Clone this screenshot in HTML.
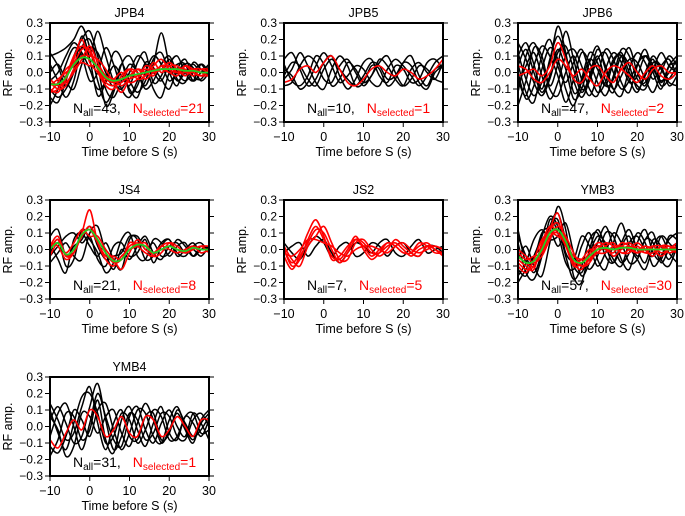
<!DOCTYPE html>
<html><head><meta charset="utf-8"><style>
body{margin:0;background:#fff}
svg{display:block;font-family:"Liberation Sans",sans-serif}
</style></head><body>
<svg id="c" width="685" height="516" viewBox="0 0 685 516"></svg>
<script>
// values in hundredths of RF amplitude, sampled at times -10,-8,...,30 s
const times=[-10,-8,-6,-4,-2,0,2,4,6,8,10,12,14,16,18,20,22,24,26,28,30];
const yTicks=[0.3,0.2,0.1,0.0,-0.1,-0.2,-0.3];
const xTicks=[-10,0,10,20,30];
const stations=["JPB4","JPB5","JPB6","JS4","JS2","YMB3","YMB4"];
const nAll=[43,10,47,21,7,57,31];
const nSel=[21,1,2,8,5,30,1];
const jpb4Black=[
[-15,-18,-5,10,20,25,10,-10,-15,-5,5,0,-8,5,24,5,-5,0,5,0,3],
[10,12,15,20,28,15,-5,-18,-10,0,-10,-15,0,10,5,-5,0,5,-5,0,5],
[-20,-10,5,15,10,-5,0,15,5,-10,-15,-5,5,0,-5,5,10,0,-5,5,0],
[5,-5,-15,-5,15,20,5,-20,-12,5,10,0,-10,-5,5,10,0,-5,0,5,-3],
[-10,-15,-10,0,15,10,25,10,-5,-10,0,10,5,-10,-15,0,5,5,-5,0,2],
[0,5,-5,-10,5,15,12,0,-8,5,-5,-12,-5,8,12,0,-8,5,3,-5,0],
[-5,0,10,18,12,2,-10,-5,12,8,-12,-8,6,3,-4,-10,2,8,-2,-4,4],
[12,4,-8,2,22,8,-14,-6,4,-2,-8,6,12,-6,-2,8,-4,-6,6,2,-2]];
const jpb4Red=[
[-12,-10,-2,10,16,12,2,-6,-8,-6,-2,2,-2,4,8,2,0,4,0,-2,2],
[-4,-8,-6,0,8,16,6,-2,-4,-8,-4,-2,2,0,2,6,2,-2,2,2,0],
[-10,-12,-4,8,20,6,0,-8,-10,-2,2,-4,-2,6,0,4,4,0,0,-2,-2],
[-8,-4,0,4,10,10,8,2,-6,-12,-4,2,0,-2,4,0,2,2,-2,2,2],
[-6,-10,-8,2,6,4,4,-4,-4,0,-6,-4,4,2,2,0,-2,4,2,0,0],
[-12,-6,2,6,14,14,2,-4,-6,-4,2,0,-4,0,4,4,0,0,2,0,-2]];
const jpb4Mean=[-7,-7,-3,5,9,8,3,-3,-5,-4,-2,-1,0,1,2,2,2,1,1,0,0];
const jpb5Black=[
[5,-5,-8,-2,10,5,-8,-4,6,2,-6,-2,8,4,-4,-8,2,6,0,-4,6],
[-4,2,12,4,-6,-10,2,10,4,-8,-6,4,2,-8,-4,6,10,-2,-8,2,4],
[8,12,2,-8,-4,6,10,-2,-10,-4,6,8,-2,-6,4,2,-6,-4,6,8,2],
[-8,-6,4,10,6,-4,-6,4,8,0,-8,-2,6,10,0,-8,-4,4,2,-4,-6],
[2,-2,-10,-6,4,12,4,-6,-2,4,2,-6,-8,2,8,4,-2,-8,-2,6,10],
[-2,6,4,-4,-8,2,8,2,-4,-8,-2,6,4,-4,-2,6,4,-6,-10,0,4]];
const jpb5Red=[[-6,-4,2,4,0,6,10,2,-6,-8,-4,2,4,0,-2,2,0,-4,-2,2,8]];
const jpb6Black=[
[10,18,5,-10,8,22,10,-5,-15,-5,8,12,0,-10,-5,5,10,2,-5,0,8],
[-20,-5,15,10,-8,5,25,8,-10,-4,10,-5,-12,5,15,0,-8,6,2,-4,0],
[5,-12,-18,2,15,8,-10,-20,-4,12,6,-8,-4,10,4,-10,-2,8,-6,4,6],
[18,8,-6,-14,-4,12,16,2,-12,-2,14,4,-10,-14,2,12,6,-4,4,8,-2],
[-8,4,12,-2,-16,-6,10,14,4,-10,-14,2,12,6,-6,-2,10,4,-8,-4,4],
[0,-16,-8,10,20,4,-6,6,14,0,-12,-6,8,10,-4,-12,0,10,2,-6,-8],
[12,-4,-14,-6,6,28,12,-12,-6,8,2,-8,6,12,0,-8,-10,2,12,4,0],
[-12,10,18,6,-10,-14,0,10,-4,-14,-2,14,8,-6,-12,4,14,0,-10,4,10],
[4,14,0,-12,-2,14,2,-16,-10,6,16,2,-10,-2,8,6,-4,-12,0,10,4],
[-4,-14,4,16,10,-2,-18,-4,12,6,-6,-14,-2,14,10,-4,-6,6,4,-8,-2]];
const jpb6Red=[
[-2,0,2,-2,4,18,8,-4,-6,2,4,-2,-6,2,6,0,-4,2,4,0,0],
[4,2,-4,-6,0,8,4,-2,2,-4,-8,0,4,2,-2,-6,0,4,-2,-4,0]];
const js4Black=[
[-2,6,-10,-6,12,6,-2,-14,-8,6,10,-4,-6,6,4,-4,2,4,-4,0,2],
[8,12,-4,2,6,14,2,-6,-4,-2,8,6,-6,-4,4,6,-2,-4,2,4,-2],
[-8,-2,4,-4,-6,10,14,-2,-12,0,-6,2,8,-2,-6,2,4,-2,0,-4,2],
[4,-6,-14,6,10,2,-4,4,-6,-12,6,8,0,4,-4,-2,6,2,-4,2,0],
[-4,2,8,10,4,8,-6,-10,2,4,-4,-2,6,-8,2,6,-4,0,4,-2,0]];
const js4Red=[
[0,6,-4,0,8,14,6,-2,-8,-6,2,4,2,-2,0,2,0,-2,2,0,0],
[4,2,-6,-2,10,24,4,-6,-10,-4,0,2,4,-4,-2,4,2,-2,0,2,-2],
[-4,4,-2,4,12,8,8,0,-6,-12,-2,6,0,-2,2,0,-2,0,2,-2,0],
[2,8,-4,-2,8,12,4,-4,-4,-6,4,2,-2,-4,2,4,0,-2,0,2,2]];
const js4Mean=[0,4,-3,0,9,12,6,-2,-7,-6,0,3,2,-2,0,2,0,-1,1,0,0];
const js2Black=[
[-2,2,4,-4,2,6,-2,-8,-2,4,2,-2,4,6,-2,-4,2,6,-2,0,2],
[4,-2,-6,2,8,4,-4,2,4,-4,-2,4,2,-4,2,4,-2,-4,2,2,-2]];
const js2Red=[
[0,-8,-2,10,18,8,-6,-4,2,6,2,-4,0,4,2,-2,-2,2,4,0,-2],
[-4,-12,-4,4,12,10,0,-8,-2,6,4,-2,-2,2,4,0,-4,0,2,2,0],
[2,-6,-10,2,8,14,4,-6,-6,4,6,0,-4,0,6,2,-2,-4,2,0,-4],
[-2,-4,0,6,6,4,2,-2,-4,0,2,2,0,-2,2,4,0,-2,0,2,0],
[0,-10,-6,6,14,6,-4,-6,0,8,0,-6,-2,4,2,-2,-2,4,2,-2,-2]];
const ymb3Black=[
[-12,-16,-4,8,20,14,-4,-18,-10,6,10,-4,-8,4,12,0,-8,6,2,-6,4],
[8,-4,-14,-2,14,22,6,-10,-14,-2,8,4,-6,-10,4,8,0,-4,8,4,-2],
[-16,-8,6,12,6,8,16,-2,-16,-8,4,14,2,-8,-2,10,4,-10,-4,6,10],
[4,-14,-18,-4,18,10,-8,-12,2,10,-6,-12,4,16,2,-6,-12,2,8,-2,-8],
[-6,2,-10,-16,4,26,12,-16,-20,0,12,2,-8,2,8,-4,6,10,-6,-10,2],
[12,-8,-6,10,12,2,8,-8,-6,-12,-4,10,8,-6,-12,4,12,-2,-6,8,6],
[-20,-12,-4,2,14,18,-2,-6,8,2,-10,-2,10,4,-8,-6,6,4,-8,0,4]];
const ymb3Red=[
[-8,-12,-10,2,12,16,6,-8,-12,-4,2,0,-2,4,2,-2,0,2,-2,0,2],
[-2,-6,-4,-2,8,10,4,-4,-6,-6,-2,2,4,-2,0,4,0,-4,2,2,-2],
[-6,-10,-12,4,14,10,2,-10,-8,-2,4,2,-4,0,2,0,2,0,-4,0,4],
[0,-4,-8,-4,6,14,8,-2,-10,-8,0,4,2,-2,-2,2,-2,2,2,-2,0],
[-10,-14,-6,6,10,8,4,-8,-6,0,-2,-2,2,2,0,-2,2,0,0,2,0],
[-4,-8,-10,0,12,22,4,-6,-10,-6,2,0,0,2,4,0,-2,-2,2,0,-2]];
const ymb3Mean=[-4,-8,-7,0,10,12,5,-6,-8,-4,0,1,0,1,1,0,0,0,0,0,0];
const ymb4Black=[
[10,-4,-14,2,18,20,8,-10,-6,8,4,-10,-2,10,6,-8,-6,6,8,-4,-2],
[-12,-16,-6,10,4,-6,10,14,-2,-14,-4,10,8,-6,-10,4,12,0,-8,2,8],
[4,12,2,-10,-6,12,26,4,-14,-6,8,4,-8,-4,8,6,-6,-8,4,8,0],
[-18,-8,8,6,-8,-2,16,-8,-16,4,12,-2,-12,2,12,-4,-8,6,2,-6,4],
[6,-2,-18,-12,8,6,-4,6,10,-4,-12,2,14,4,-10,-2,8,-2,-10,4,10],
[-6,8,14,0,-14,2,20,6,-8,-12,6,12,-2,-10,2,10,0,-6,8,2,-8],
[14,4,-8,-4,12,24,2,-14,2,10,-6,-8,6,8,-8,-4,10,2,-6,-2,6]];
const ymb4Red=[[-8,-13,-4,4,-2,10,6,-6,-2,6,-4,-6,6,4,-6,-2,6,0,-6,4,4]];
const blackSets=[jpb4Black,jpb5Black,jpb6Black,js4Black,js2Black,ymb3Black,ymb4Black];
const redSets=[jpb4Red,jpb5Red,jpb6Red,js4Red,js2Red,ymb3Red,ymb4Red];
const meanSets=[jpb4Mean,null,null,js4Mean,null,ymb3Mean,null];

const NS="http://www.w3.org/2000/svg";
const svg=document.getElementById('c');
const colX=[50,284,518], rowY=[23,200,377], W=159, H=99;
function mk(tag,attrs,parent){const e=document.createElementNS(NS,tag);for(const k in attrs)e.setAttribute(k,attrs[k]);(parent||svg).appendChild(e);return e;}
function pathFor(vals,sx,sy){
  const p=vals.map((v,i)=>[sx(times[i]),sy(v/100)]);
  let d=`M${p[0][0]},${p[0][1]}`;
  for(let i=0;i<p.length-1;i++){
    const p0=p[Math.max(0,i-1)],p1=p[i],p2=p[i+1],p3=p[Math.min(p.length-1,i+2)];
    const c1=[p1[0]+(p2[0]-p0[0])/6,p1[1]+(p2[1]-p0[1])/6];
    const c2=[p2[0]-(p3[0]-p1[0])/6,p2[1]-(p3[1]-p1[1])/6];
    d+=`C${c1[0].toFixed(1)},${c1[1].toFixed(1)} ${c2[0].toFixed(1)},${c2[1].toFixed(1)} ${p2[0].toFixed(1)},${p2[1].toFixed(1)}`;
  }
  return d;
}
stations.forEach((st,k)=>{
  const x0=colX[k%3], y0=rowY[Math.floor(k/3)];
  const sx=t=>x0+(t+10)/40*W;
  const sy=v=>y0+(0.3-v)/0.6*H;
  const g=mk('g',{});
  
  
  const clipId='clip'+k;
  const cp=mk('clipPath',{id:clipId},g);mk('rect',{x:x0,y:y0,width:W,height:H},cp);
  const traces=mk('g',{'clip-path':`url(#${clipId})`},g);
  blackSets[k].forEach(v=>{const e=mk('path',{d:pathFor(v,sx,sy),fill:'none',stroke:'#000','stroke-width':1.5},traces);
    
    });
  redSets[k].forEach(v=>{const e=mk('path',{d:pathFor(v,sx,sy),fill:'none',stroke:'#f00','stroke-width':1.6},traces);
    
    });
  if(meanSets[k]){const e=mk('path',{d:pathFor(meanSets[k],sx,sy),fill:'none',stroke:'#2c2','stroke-width':1.8},traces);
    
    }
  const fr=mk('rect',{x:x0,y:y0,width:W,height:H,fill:'none',stroke:'#000','stroke-width':2},g);
  
  
  yTicks.forEach(v=>{const y=sy(v);
    mk('line',{x1:x0-5,x2:x0,y1:y,y2:y,stroke:'#000','stroke-width':1},g);
    mk('line',{x1:x0+W,x2:x0+W+5,y1:y,y2:y,stroke:'#000','stroke-width':1},g);
    const t=mk('text',{x:x0-7,y:y+4,'text-anchor':'end','font-size':12},g);t.textContent=v.toFixed(1).replace('-','\u2212');
    
    });
  xTicks.forEach(v=>{const x=sx(v);
    mk('line',{x1:x,x2:x,y1:y0+H,y2:y0+H+5,stroke:'#000','stroke-width':1},g);
    const t=mk('text',{x:x,y:y0+H+19,'text-anchor':'middle','font-size':12.5},g);t.textContent=String(v).replace('-','\u2212');
    
    });
  const ti=mk('text',{x:x0+W/2,y:y0-6,'text-anchor':'middle','font-size':12.5},g);ti.textContent=st;
  
  
  const xl=mk('text',{x:x0+W/2,y:y0+H+34,'text-anchor':'middle','font-size':12.5},g);xl.textContent='Time before S (s)';
  
  
  const yl=mk('text',{x:0,y:0,'text-anchor':'middle','font-size':12.5,transform:`translate(${x0-38},${y0+H/2}) rotate(-90)`},g);yl.textContent='RF amp.';
  
  
  const ann=mk('text',{x:x0+23,y:y0+90,'font-size':14},g);
  
  
  ann.innerHTML=`N<tspan font-size="10" dy="3">all</tspan><tspan dy="-3">=${nAll[k]},</tspan><tspan fill="#f00" dx="12">N</tspan><tspan fill="#f00" font-size="10" dy="3">selected</tspan><tspan fill="#f00" dy="-3">=${nSel[k]}</tspan>`;
});
</script>
</body></html>
